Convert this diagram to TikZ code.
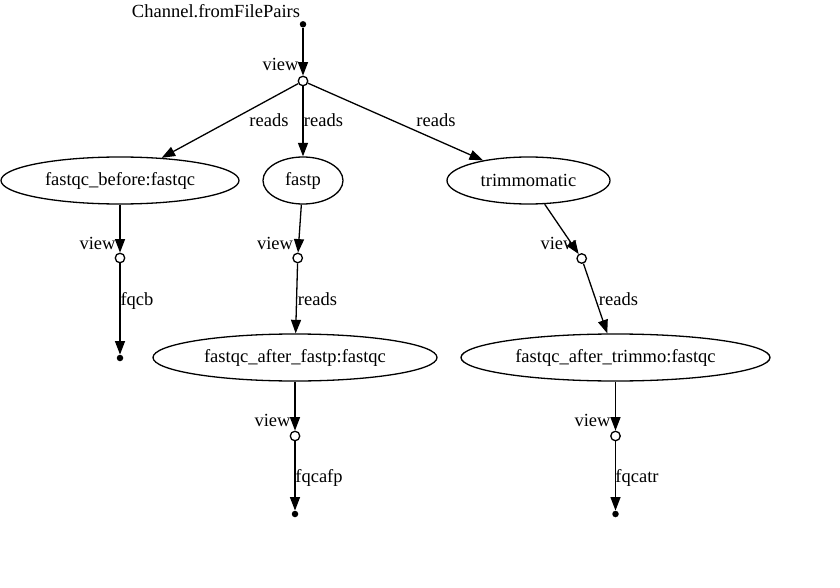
\documentclass[tikz,border=0pt]{standalone}
\usepackage{fontspec}
\setmainfont{Liberation Serif}
\usetikzlibrary{arrows.meta,shapes.geometric}
\begin{document}
\begin{tikzpicture}[x=1pt,y=-1pt,
  every node/.style={font=\fontsize{18.5}{22}\selectfont},
  proc/.style={draw,ellipse,line width=1.3pt,inner sep=0pt,minimum height=47pt},
  opdot/.style={draw,circle,fill=white,line width=1.3pt,inner sep=0pt,minimum size=9.5pt},
  enddot/.style={circle,fill=black,inner sep=0pt,minimum size=6.5pt},
  lbl/.style={anchor=base,inner sep=0pt},
  edge/.style={line width=1.3pt,-{Triangle[length=13.5pt,width=10pt]}}]
\useasboundingbox (0,0) rectangle (840,588);
% nodes
\node[lbl] (srct) at (216,17.5) {Channel.fromFilePairs};
\node[enddot] (src) at (303,24.3) {};
\node[opdot] (v0) at (303,81) {};
\node[proc,minimum width=238pt] (fb) at (120,180.5) {fastqc\_before:fastqc};
\node[proc,minimum width=80pt] (fp) at (303,180.5) {fastp};
\node[proc,minimum width=163pt] (tr) at (528.5,180.5) {trimmomatic};
\node[opdot] (v1) at (120,258) {};
\node[opdot] (v2) at (297.7,258) {};
\node[opdot] (v3) at (581.7,258.5) {};
\node[enddot] (d1) at (120,358) {};
\node[proc,minimum width=284pt] (fafp) at (295,357.5) {fastqc\_after\_fastp:fastqc};
\node[proc,minimum width=309pt] (fatr) at (615.5,357.5) {fastqc\_after\_trimmo:fastqc};
\node[opdot] (v4) at (295,436) {};
\node[opdot] (v5) at (615.5,436) {};
\node[enddot] (d2) at (295,514) {};
\node[enddot] (d3) at (615.5,514) {};
% edges
\draw[edge] (src) -- (v0);
\draw[edge] (v0) -- (fb);
\draw[edge] (v0) -- (fp);
\draw[edge] (v0) -- (tr);
\draw[edge] (fb) -- (v1);
\draw[edge] (fp) -- (v2);
\draw[edge] (tr) -- (v3);
\draw[edge] (v1) -- (d1);
\draw[edge] (v2) -- (fafp);
\draw[edge] (v3) -- (fatr);
\draw[edge] (fafp) -- (v4);
\draw[edge] (fatr) -- (v5);
\draw[edge] (v4) -- (d2);
\draw[edge] (v5) -- (d3);
% edge labels
\node[lbl] (l0) at (280.5,70.7) {view};
\node[lbl] (l1) at (269,127) {reads};
\node[lbl] (l2) at (323.5,127) {reads};
\node[lbl] (l3) at (436,127) {reads};
\node[lbl] (l4) at (97.5,249.3) {view};
\node[lbl] (l5) at (275,249.3) {view};
\node[lbl] (l6) at (558.5,249.3) {view};
\node[lbl] (l7) at (137,305) {fqcb};
\node[lbl] (l8) at (317.5,305) {reads};
\node[lbl] (l9) at (618.5,305) {reads};
\node[lbl] (l10) at (272.5,426) {view};
\node[lbl] (l11) at (592.5,426) {view};
\node[lbl] (l12) at (319,482) {fqcafp};
\node[lbl] (l13) at (637,482) {fqcatr};
\end{tikzpicture}
\end{document}
